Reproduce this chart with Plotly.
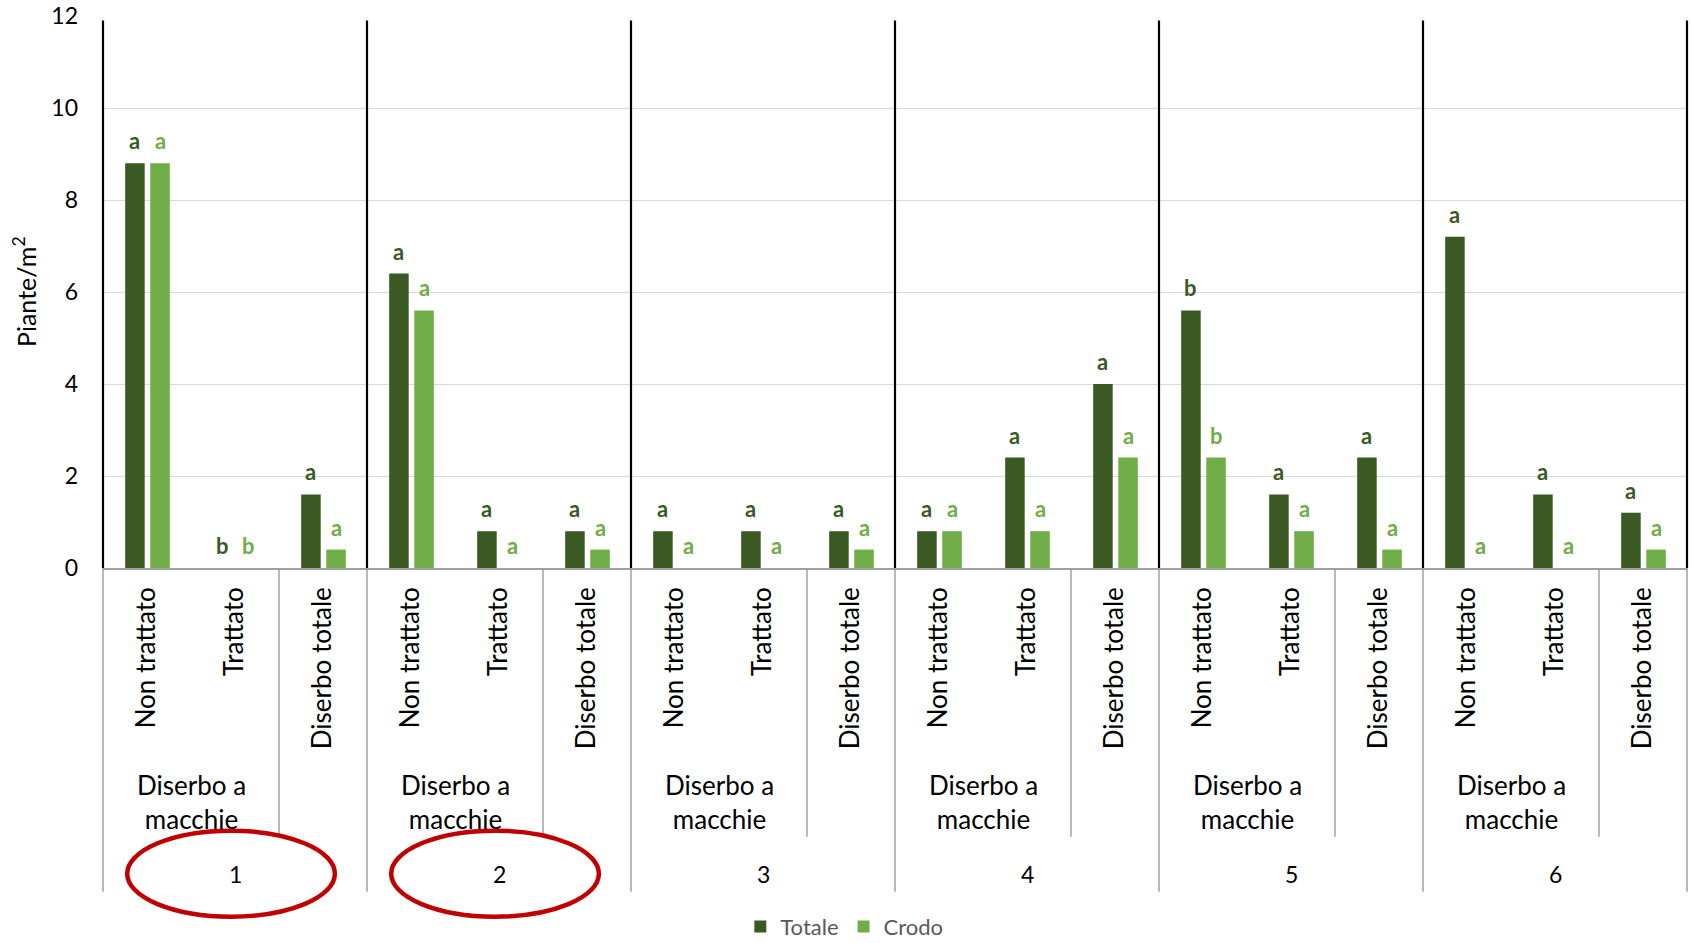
import plotly.graph_objects as go

# Weed density (plants per m2) by trial site and weeding strategy
groups = ["1", "2", "3", "4", "5", "6"]
treatments = ["Non trattato", "Trattato", "Diserbo totale"]
patch_label = "Diserbo a<br>macchie"
highlighted = ["1", "2"]

totale = [8.8, 0.0, 1.6,
          6.4, 0.8, 0.8,
          0.8, 0.8, 0.8,
          0.8, 2.4, 4.0,
          5.6, 1.6, 2.4,
          7.2, 1.6, 1.2]
crodo = [8.8, 0.0, 0.4,
         5.6, 0.0, 0.4,
         0.0, 0.0, 0.4,
         0.8, 0.8, 2.4,
         2.4, 0.8, 0.4,
         0.0, 0.0, 0.4]
letters_totale = ["a", "b", "a", "a", "a", "a", "a", "a", "a",
                  "a", "a", "a", "b", "a", "a", "a", "a", "a"]
letters_crodo = ["a", "b", "a", "a", "a", "a", "a", "a", "a",
                 "a", "a", "a", "b", "a", "a", "a", "a", "a"]

y_ticks = [0, 2, 4, 6, 8, 10, 12]

DARK = "#3A5A24"
LIGHT = "#70AD47"
FONT = "Lato"

n_cat = len(treatments) * len(groups)
xs = list(range(n_cat))
tick_text = treatments * len(groups)

BAR_W = 0.222
OFF_T = -0.248
OFF_C = 0.037

fig = go.Figure()
fig.add_bar(x=xs, y=totale, name="Totale", width=BAR_W, offset=OFF_T,
            marker=dict(color=DARK, line=dict(width=0)))
fig.add_bar(x=xs, y=crodo, name="Crodo", width=BAR_W, offset=OFF_C,
            marker=dict(color=LIGHT, line=dict(width=0)))

annotations = []
# significance letters above each bar
for i in xs:
    for vals, lets, off, col in ((totale, letters_totale, OFF_T, DARK),
                                 (crodo, letters_crodo, OFF_C, LIGHT)):
        annotations.append(dict(
            x=i + off + BAR_W / 2, y=vals[i], xref="x", yref="y",
            text="<b>" + lets[i] + "</b>", showarrow=False,
            yanchor="bottom", xanchor="center", yshift=7,
            font=dict(family=FONT, size=22, color=col)))

n_t = len(treatments)
shapes = []
# group separators inside the plot and below the axis
for k in range(len(groups) + 1):
    fx = k / len(groups)
    shapes.append(dict(type="line", xref="x domain", yref="y",
                       x0=fx, x1=fx, y0=0, y1=11.9,
                       line=dict(color="black", width=2.2)))
    shapes.append(dict(type="line", xref="x domain", yref="y domain",
                       x0=fx, x1=fx, y0=0, y1=-0.5864,
                       line=dict(color="#A0A0A0", width=1.5)))
# separator between patch weeding and total weeding
for g in range(len(groups)):
    fx = (g * n_t + 2) / n_cat
    shapes.append(dict(type="line", xref="x domain", yref="y domain",
                       x0=fx, x1=fx, y0=0, y1=-0.4868,
                       line=dict(color="#A0A0A0", width=1.5)))

for g, name in enumerate(groups):
    center = g * n_t + 1
    annotations.append(dict(
        x=center - 0.5, y=-0.4239, xref="x", yref="paper",
        text=patch_label, showarrow=False, xanchor="center", yanchor="middle",
        font=dict(family=FONT, size=26, color="black")))
    annotations.append(dict(
        x=center, y=-0.5549, xref="x", yref="paper",
        text=name, showarrow=False, xanchor="center", yanchor="middle",
        font=dict(family=FONT, size=23, color="black")))
    if name in highlighted:
        cx = center - 0.045
        shapes.append(dict(type="circle", xref="x", yref="y domain",
                           x0=cx - 1.18, x1=cx + 1.18, y0=-0.6317, y1=-0.4759,
                           line=dict(color="#C00000", width=4.5)))

annotations.append(dict(
    x=0, y=0.5, xref="paper", yref="paper", xshift=-79,
    text="Piante/m<sup>2</sup>", textangle=-90, showarrow=False,
    xanchor="center", yanchor="middle",
    font=dict(family=FONT, size=25, color="black")))

fig.update_layout(
    width=1691, height=943,
    margin=dict(l=103, r=4, t=16, b=375, autoexpand=False),
    paper_bgcolor="white", plot_bgcolor="white",
    barmode="overlay",
    font=dict(family=FONT, color="black"),
    showlegend=True,
    legend=dict(orientation="h", x=0.468, xanchor="center",
                y=-0.6498, yanchor="middle",
                font=dict(family=FONT, size=22, color="#595959"),
                itemwidth=30, tracegroupgap=0,
                bgcolor="rgba(0,0,0,0)"),
    annotations=annotations,
    shapes=shapes,
)
fig.update_xaxes(range=[-0.5, n_cat - 0.5], tickmode="array",
                 tickvals=xs, ticktext=tick_text, tickangle=-90,
                 tickfont=dict(family=FONT, size=26, color="black"),
                 ticks="", ticklabelstandoff=7,
                 showgrid=False, zeroline=False,
                 showline=True, linecolor="#A0A0A0", linewidth=1.5,
                 automargin=False, fixedrange=True)
fig.update_yaxes(range=[0, 12], tickmode="array", tickvals=y_ticks,
                 tickfont=dict(family=FONT, size=23, color="black"),
                 ticks="", ticklabelstandoff=24,
                 showgrid=True, gridcolor="#D9D9D9", gridwidth=1.3,
                 zeroline=False, showline=False,
                 automargin=False, fixedrange=True)

fig.write_html("out.html")
